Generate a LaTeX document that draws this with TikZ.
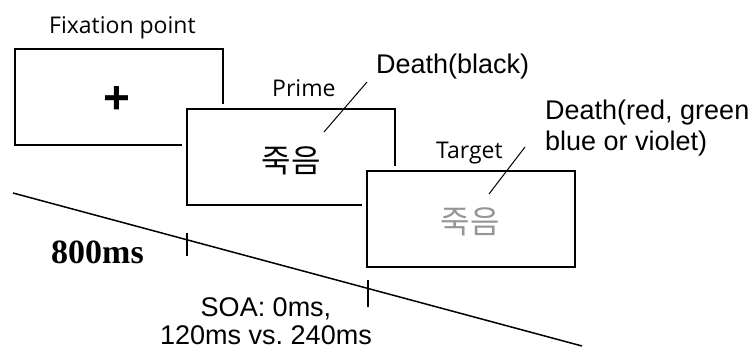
\documentclass[tikz,border=0pt]{standalone}
\usepackage{fontspec}
\setmainfont{Liberation Sans}
\newfontfamily\stagefont{Open Sans}
\newfontfamily\timefont{Liberation Serif}
\newfontfamily\hangulfont{Noto Sans CJK KR}
\definecolor{faded}{RGB}{150,150,150}

\begin{document}
\begin{tikzpicture}[x=1pt, y=-1pt,
  screen/.style={draw, line width=1.6pt, fill=white, minimum width=208pt, minimum height=96pt, inner sep=0pt, preaction={draw=white, line width=10pt}},
  stage/.style={font=\stagefont\fontsize{23}{28}\selectfont, inner sep=0pt},
  note/.style={font=\fontsize{27}{31}\selectfont, inner sep=0pt, align=left},
  word/.style={font=\hangulfont\fontsize{32}{36}\selectfont, inner sep=0pt},
  lead/.style={line width=1pt},
  tick/.style={line width=1.3pt},
]
\useasboundingbox (0,0) rectangle (753,351);

% time axis
\coordinate (tlstart) at (13,193);
\coordinate (tlend) at (582,346);
\draw[line width=1.5pt] (tlstart) -- (tlend)
  coordinate[pos=0.3058] (soa) coordinate[pos=0.6239] (onset);
\draw[tick] ([yshift=7pt]soa) -- ([yshift=-16pt]soa);
\draw[tick] ([yshift=8pt]onset) -- ([yshift=-19pt]onset);

% screens
\node[screen] (fixation) at (119,97) {};
\node[screen] (prime) at (291,157) {};
\node[screen] (target) at (471,219) {};

\node[font=\bfseries\fontsize{46}{46}\selectfont, inner sep=0pt] (cross) at (117,100) {+};
\node[word] (primeword) at (291,161) {죽음};
\node[word, text=faded] (targetword) at (470,222) {죽음};

% labels
\node[stage, anchor=base west] (fixlabel) at (49,33) {Fixation point};
\node[stage, anchor=base west] (primelabel) at (272,96) {Prime};
\node[stage, anchor=base west] (targetlabel) at (436,158) {Target};

\node[note, anchor=base west] (blackword) at (376,73) {Death(black)};
\node[note, anchor=north west] (colorword) at (545,100) {Death(red, green\\blue or violet)};

\coordinate (blackend) at (324,132);
\coordinate (colorend) at (489,194);
\draw[lead] ([xshift=-9pt, yshift=-9pt]blackword.base west) -- (blackend);
\draw[lead] (525,147) -- (colorend);

\node[font=\timefont\bfseries\fontsize{34}{38}\selectfont, anchor=base west, inner sep=0pt] (fixtime) at (51,263) {800ms};
\node[note, align=center, anchor=north, font=\fontsize{27}{28}\selectfont] (soatime) at (266,297) {SOA: 0ms,\\120ms vs.\ 240ms};
\end{tikzpicture}
\end{document}
